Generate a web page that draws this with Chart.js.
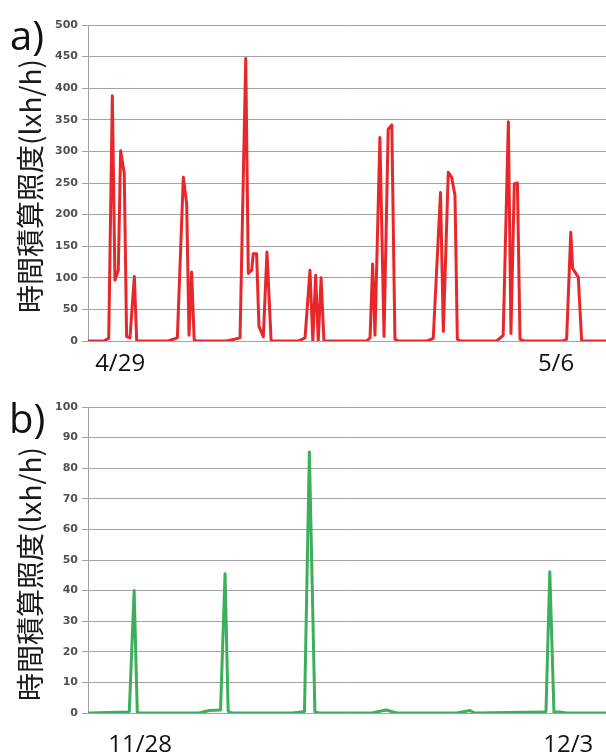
<!DOCTYPE html>
<html><head><meta charset="utf-8">
<script src="https://cdn.jsdelivr.net/npm/chart.js@4"></script>
<style>
html,body{margin:0;padding:0;background:#fff;width:606px;height:755px;overflow:hidden}
.panel{position:absolute;left:0;width:606px}
#pa{top:0;height:380px}
#pb{top:380px;height:375px}
canvas{display:block}
</style></head><body>
<div class="panel" id="pa"><canvas id="ca" width="606" height="380"></canvas></div>
<div class="panel" id="pb"><canvas id="cb" width="606" height="375"></canvas></div>
<script>
const yTitle = '時間積算照度(lxh/h)';

// Panel a) — hours since 4/29 00:00, hourly illuminance (lxh/h)
const hoursA = [0, 6, 8, 9.4, 10.4, 11.7, 12.6, 14.0, 14.9, 16.2, 17.9, 18.8,
  31, 34.5, 36.8, 38.1, 39.0, 40.0, 41.0, 42,
  53.6, 58.7, 60.9, 61.9, 63.2, 63.8, 65.1, 66.0, 67.7, 69.1, 70.7,
  81.2, 83.8, 85.7, 86.8, 87.9, 88.9, 90.0, 91.1,
  107.6, 108.9, 109.9, 110.8, 112.7, 114.3, 115.9, 117.3, 118.5, 119.7,
  131, 133.3, 136.1, 137.2, 139.1, 140.4, 141.7, 142.6, 143.6,
  157.8, 160.3, 162.3, 163.3, 164.6, 165.8, 166.8, 168.3,
  183.4, 184.8, 186.4, 187.1, 189.3, 190.6, 200];
const valuesA = [0, 0, 4, 388, 96, 112, 301, 265, 7, 5, 102, 0,
  0, 5, 259, 217, 9, 109, 2, 0,
  0, 5, 447, 107, 112, 138, 138, 23, 7, 141, 0,
  0, 5, 112, 0, 104, 0, 100, 0,
  0, 5, 122, 9, 322, 7, 335, 342, 3, 0,
  0, 4, 235, 15, 267, 259, 230, 3, 0,
  0, 9, 347, 12, 249, 250, 3, 0,
  0, 3, 172, 115, 101, 0, 0];
const dateTicksA = [12.4, 180.7];
const dateLabelsA = ['4/29', '5/6'];

// Panel b) — hours since 11/28 00:00
const hoursB = [0, 11.5, 11.9, 13.3, 14.2, 15,
  32, 35, 38.2, 39.5, 40.4, 41.5,
  59, 62.4, 63.8, 65.4, 66.5,
  81.8, 85.9, 89,
  106.3, 110.1, 111.5,
  131.5, 132.0, 133.1, 134.3, 136, 137.8, 149.3];
const valuesB = [0, 0.3, 0.5, 40, 0.3, 0,
  0, 0.8, 1, 45.5, 0.5, 0,
  0, 0.5, 85.3, 0.3, 0,
  0, 1, 0,
  0, 0.8, 0,
  0.3, 0.5, 46.2, 0.3, 0.3, 0, 0];
const dateTicksB = [15.0, 138.4];
const dateLabelsB = ['11/28', '12/3'];

function build(canvasId, o) {
  const pts = o.hours.map((h, i) => ({x: h, y: o.values[i]}));
  return new Chart(document.getElementById(canvasId), {
    type: 'line',
    data: {datasets: [{data: pts, borderColor: o.color, borderWidth: 3, pointRadius: 0,
      tension: 0, borderJoinStyle: 'round', fill: false}]},
    options: {
      responsive: false, animation: false, events: [],
      layout: {padding: {top: o.top, left: 0, right: 0, bottom: 0}},
      plugins: {legend: {display: false}, tooltip: {enabled: false}},
      scales: {
        x: {type: 'linear', min: 0, max: o.xMax,
          grid: {display: false}, border: {display: false},
          afterBuildTicks: s => { s.ticks = o.dateTicks.map(v => ({value: v})); },
          ticks: {autoSkip: false, maxRotation: 0, padding: o.xPad,
            font: {family: 'Open Sans', size: 24}, color: '#111',
            callback: (v, i) => o.dateLabels[i]},
          afterFit: s => { s.height = o.xH; }},
        y: {min: 0, max: o.yMax,
          ticks: {stepSize: o.yStep, padding: 4,
            font: {family: 'DejaVu Sans', size: 11, weight: 'bold'}, color: '#505050'},
          grid: {color: '#a3a3a3', lineWidth: 1, tickLength: 6},
          border: {color: '#a3a3a3', width: 1},
          afterFit: s => { s.width = 88; }}
      }
    },
    plugins: [{id: 'txt', afterDraw(chart) {
      const ctx = chart.ctx;
      ctx.save();
      ctx.fillStyle = '#111';
      ctx.font = '40px "Open Sans"';
      ctx.textAlign = 'left'; ctx.textBaseline = 'alphabetic';
      ctx.fillText(o.letter, o.letterX, o.letterY);
      ctx.translate(o.titleX, o.titleY);
      ctx.rotate(-Math.PI / 2);
      ctx.textAlign = 'center'; ctx.textBaseline = 'middle';
      ctx.font = '28px "Noto Sans CJK JP"';
      ctx.fillStyle = '#1a1a1a';
      ctx.fillText(yTitle, 0, 0);
      ctx.restore();
    }}]
  });
}

build('ca', {hours: hoursA, values: valuesA, color: '#e8272b', top: 25, xH: 39, xPad: 1,
  xMax: 200, yMax: 500, yStep: 50, dateTicks: dateTicksA, dateLabels: dateLabelsA,
  letter: 'a)', letterX: 10, letterY: 50, titleX: 30, titleY: 186});
build('cb', {hours: hoursB, values: valuesB, color: '#3dae5b', top: 27, xH: 42, xPad: 10,
  xMax: 149.3, yMax: 100, yStep: 10, dateTicks: dateTicksB, dateLabels: dateLabelsB,
  letter: 'b)', letterX: 9, letterY: 53, titleX: 30, titleY: 194});
</script>
</body></html>
